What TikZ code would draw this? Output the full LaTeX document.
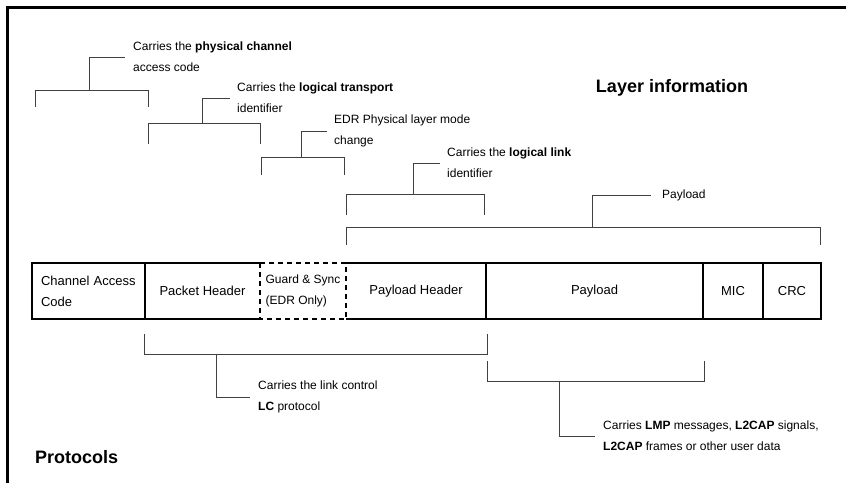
\documentclass[tikz,border=0pt]{standalone}
\usepackage{fontspec}
\setmainfont{Liberation Sans}
\usetikzlibrary{positioning}

\begin{document}
\begin{tikzpicture}[x=1pt, y=-1pt,
  cell/.style={minimum height=56pt, inner sep=0pt, outer sep=0pt, align=center, font=\fontsize{13}{21}\selectfont},
  note/.style={inner sep=0pt, anchor=west, align=left, font=\fontsize{12}{21}\selectfont},
  brace/.style={draw=black!75, line width=0.9pt},
  field/.style={line width=2pt},
  title/.style={font=\fontsize{18}{22}\selectfont\bfseries}]

\useasboundingbox (0,0) rectangle (846,483);
\draw[line width=2.5pt] (7.5,483) -- (7.5,7.5) -- (846,7.5);

% packet fields
\node (cac) [cell, minimum width=113pt, text width=95pt, align=left] at (88.5,291) {Channel Access\\Code};
\node (ph) [cell, minimum width=115pt, right=0pt of cac] {Packet Header};
\node (gs) [cell, minimum width=86pt, right=0pt of ph, align=left, font=\fontsize{12}{21}\selectfont] {Guard \& Sync\\(EDR Only)};
\node (plh) [cell, minimum width=140pt, right=0pt of gs] {Payload Header};
\node (pl) [cell, minimum width=217pt, right=0pt of plh] {Payload};
\node (mic) [cell, minimum width=60pt, right=0pt of pl] {MIC};
\node (crc) [cell, minimum width=58pt, right=0pt of mic] {CRC};

\draw[field] (gs.north west) -- (cac.north west) -- (cac.south west) -- (gs.south west);
\draw[field] (cac.north east) -- (cac.south east);
\draw[field, dash pattern=on 5pt off 4pt] (gs.north west) rectangle (gs.south east);
\draw[field] (gs.north east) -- (crc.north east) -- (crc.south east) -- (gs.south east);
\foreach \f in {plh, pl, mic}
  \draw[field] (\f.north east) -- (\f.south east);

% layer information
\node (layer) [title] at (672,88) {Layer information};
\node (lcac) [note] at (133,57) {Carries the \textbf{physical channel}\\access code};
\node (lph) [note] at (237,98) {Carries the \textbf{logical transport}\\identifier};
\node (lgs) [note] at (334,131) {EDR Physical layer mode\\change};
\node (lplh) [note] at (447,163) {Carries the \textbf{logical link}\\identifier};
\node (lpl) [note] at (662,195) {Payload};

\coordinate (bcac) at (89,90);
\coordinate (bph) at (202,123);
\coordinate (bgs) at (301,157);
\coordinate (bplh) at (413,194);
\coordinate (bpl) at (592,227);

\draw[brace] (35,107) |- (148,90) -- (148,107);
\draw[brace] (148,144) |- (260,123) -- (260,144);
\draw[brace] (261,175) |- (344,157) -- (344,175);
\draw[brace] (346,215) |- (484,194) -- (484,215);
\draw[brace] (346,245) |- (820,227) -- (820,245);
\draw[brace, shorten >=8pt] (bcac) |- (lcac.west);
\draw[brace, shorten >=7pt] (bph) |- (lph.west);
\draw[brace, shorten >=7pt] (bgs) |- (lgs.west);
\draw[brace, shorten >=7pt] (bplh) |- (lplh.west);
\draw[brace, shorten >=11pt] (bpl) |- (lpl.west);

% protocols
\node (proto) [title, anchor=west, inner sep=0pt] at (35,457) {Protocols};
\node (llc) [note] at (258,397) {Carries the link control\\\textbf{LC} protocol};
\node (lup) [note] at (603,436) {Carries \textbf{LMP} messages, \textbf{L2CAP} signals,\\\textbf{L2CAP} frames or other user data};

\coordinate (blc) at (216,354);
\coordinate (bup) at (559,381);

\draw[brace] (144,334) |- (487,354) -- (487,334);
\draw[brace] (487,361) |- (704,381) -- (704,361);
\draw[brace, shorten >=8pt] (blc) |- (llc.west);
\draw[brace, shorten >=8pt] (bup) |- (lup.west);
\end{tikzpicture}
\end{document}
